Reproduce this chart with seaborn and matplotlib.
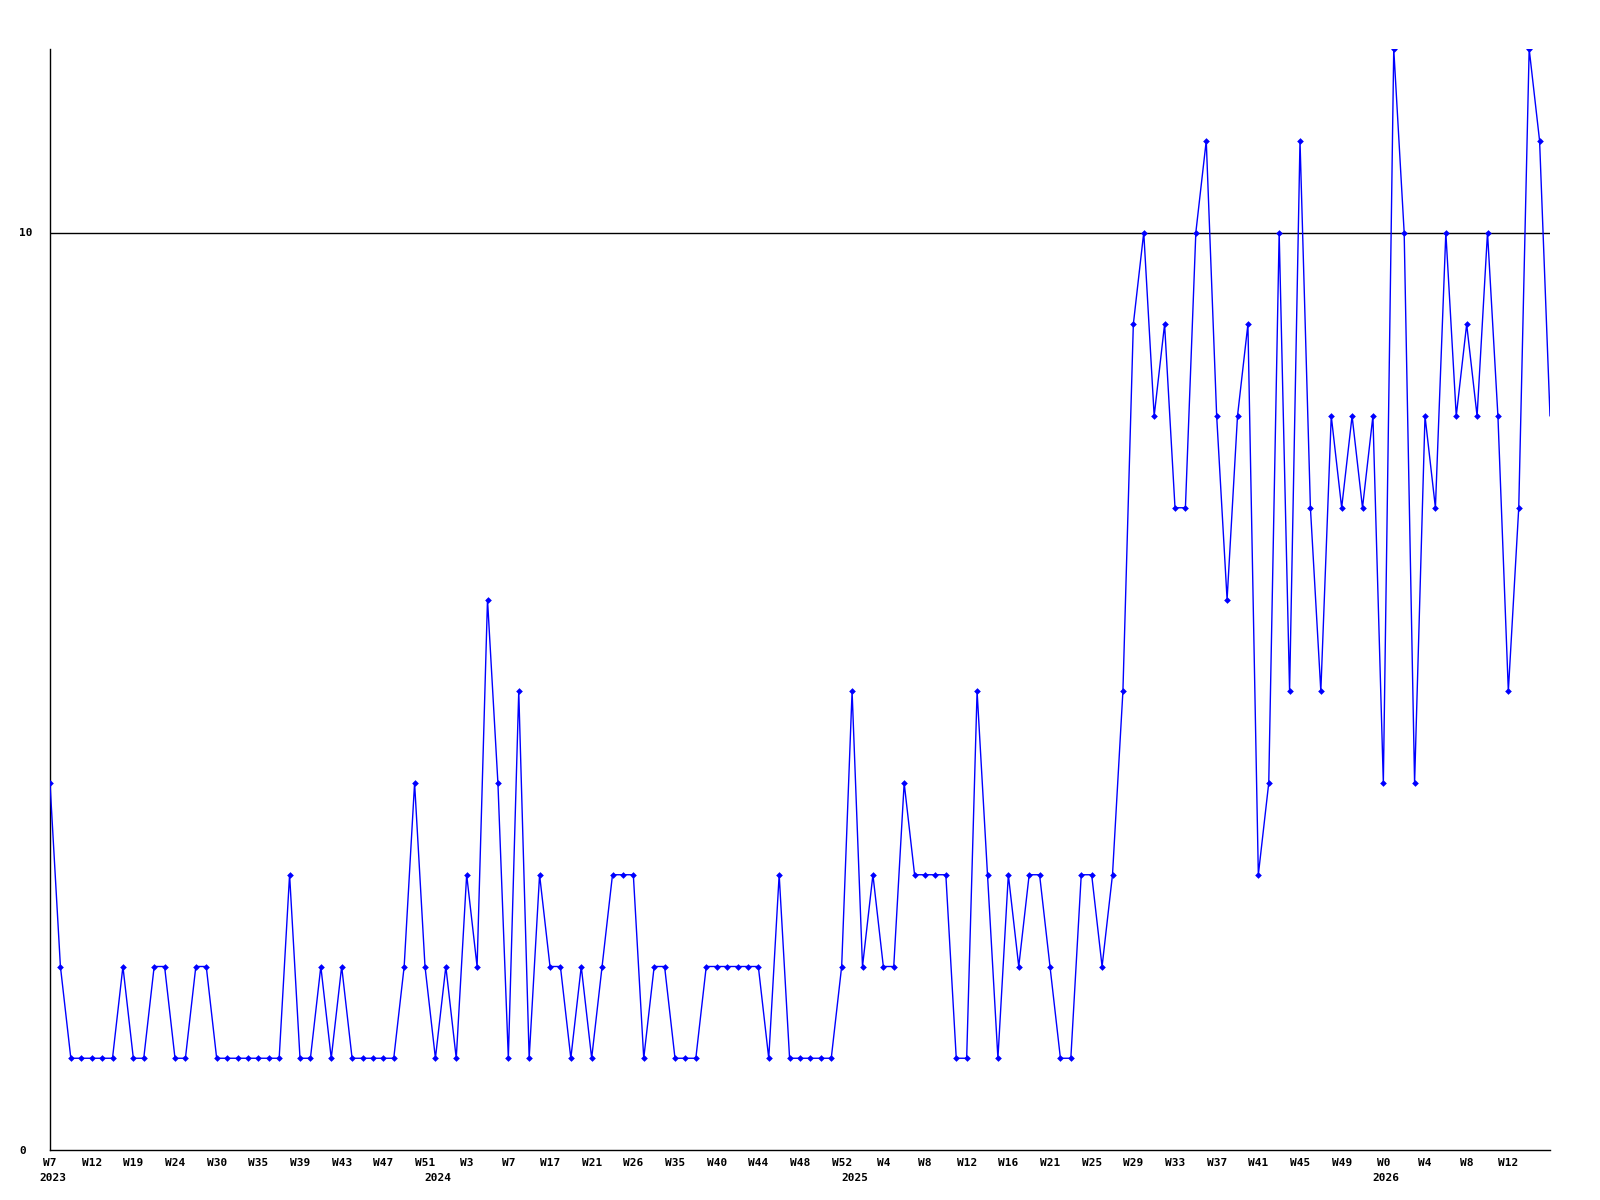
import numpy as np
import pandas as pd
import matplotlib
matplotlib.use("Agg")
import matplotlib.pyplot as plt
import matplotlib.transforms as mtransforms
import seaborn as sns

# ---- data ----
values = [4, 2, 1, 1, 1, 1, 1, 2, 1, 1, 2, 2, 1, 1, 2, 2, 1, 1, 1, 1,
          1, 1, 1, 3, 1, 1, 2, 1, 2, 1, 1, 1, 1, 1, 2, 4, 2, 1, 2, 1,
          3, 2, 6, 4, 1, 5, 1, 3, 2, 2, 1, 2, 1, 2, 3, 3, 3, 1, 2, 2,
          1, 1, 1, 2, 2, 2, 2, 2, 2, 1, 3, 1, 1, 1, 1, 1, 2, 5, 2, 3,
          2, 2, 4, 3, 3, 3, 3, 1, 1, 5, 3, 1, 3, 2, 3, 3, 2, 1, 1, 3,
          3, 2, 3, 5, 9, 10, 8, 9, 7, 7, 10, 11, 8, 6, 8, 9, 3, 4, 10, 5,
          11, 7, 5, 8, 7, 8, 7, 8, 4, 12, 10, 4, 8, 7, 10, 8, 9, 8, 10, 8,
          5, 7, 12, 11, 8]

week_labels = ['W7', 'W12', 'W19', 'W24', 'W30', 'W35', 'W39', 'W43', 'W47',
               'W51', 'W3', 'W7', 'W17', 'W21', 'W26', 'W35', 'W40', 'W44',
               'W48', 'W52', 'W4', 'W8', 'W12', 'W16', 'W21', 'W25', 'W29',
               'W33', 'W37', 'W41', 'W45', 'W49', 'W0', 'W4', 'W8', 'W12']
label_step = 4

year_labels = ['2023', '2024', '2025', '2026']
year_start = [0, 37, 77, 128]

y_ticks = [0, 10]
y_max = 12
ref_level = 10

# ---- plotting ----
sns.set_theme(style="white")
plt.rcParams['font.family'] = ['DejaVu Sans Mono', 'DejaVu Sans']
plt.rcParams['text.color'] = 'black'
plt.rcParams['xtick.color'] = 'black'
plt.rcParams['ytick.color'] = 'black'
plt.rcParams['axes.labelcolor'] = 'black'

df = pd.DataFrame({"idx": np.arange(len(values)), "value": values})

fig = plt.figure(figsize=(16, 12), dpi=100)
fig.patch.set_facecolor("white")
ax = fig.add_axes([50 / 1600, 1 - 1150 / 1200, 1500 / 1600, 1101 / 1200])
ax.set_facecolor("white")

ax.axhline(ref_level, color="black", lw=1.0, zorder=1)

sns.lineplot(data=df, x="idx", y="value", ax=ax, color="#0000ff",
             linewidth=1.0, marker="D", markersize=3.4, markeredgewidth=0,
             markevery=list(range(len(values) - 1)), zorder=3)

ax.set_xlim(0, len(values) - 1)
ax.set_ylim(0, y_max)

for side in ["top", "right"]:
    ax.spines[side].set_visible(False)
for side in ["left", "bottom"]:
    ax.spines[side].set_color("black")
    ax.spines[side].set_linewidth(1.0)

tick_pos = np.arange(len(week_labels)) * label_step
ax.set_xticks(tick_pos)
ax.set_xticklabels(week_labels, fontsize=8, fontweight="bold", color="black")
ax.set_yticks(y_ticks)
ax.set_yticklabels([str(t) for t in y_ticks], fontsize=8, fontweight="bold",
                   color="black")
ax.tick_params(axis="both", length=0, colors="black")
ax.tick_params(axis="x", pad=6)
ax.tick_params(axis="y", pad=22)
for lbl in ax.get_yticklabels():
    lbl.set_horizontalalignment("left")

ax.set_xlabel("")
ax.set_ylabel("")

trans = mtransforms.blended_transform_factory(ax.transData, fig.transFigure)
for yl, ys in zip(year_labels, year_start):
    ax.text(ys - 1.05, 1 - 1178 / 1200, yl, transform=trans, ha="left",
            va="center", fontsize=8, fontweight="bold", color="black",
            clip_on=False)

fig.savefig("out.png", dpi=100, facecolor="white")
